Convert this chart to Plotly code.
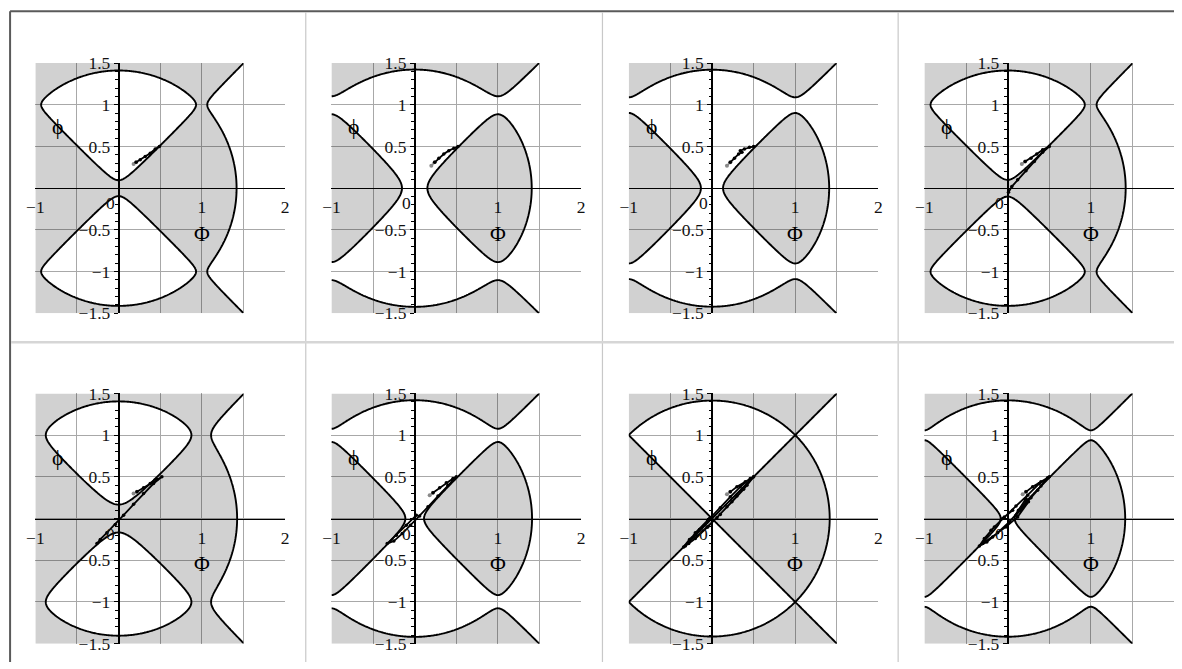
import numpy as np
import plotly.graph_objects as go

# Level c of the implicit curve (Φ² + ϕ² − 2)(Φ² − ϕ²) = c in each panel (row by row)
levels = [0.018, -0.046, -0.035, 0.02, 0.055, -0.025, 0.0, -0.014]

# Early part of each trajectory (drawn gray) and the rest (drawn black), as (Φ, ϕ) pairs
traj_early = [
    [(0.18, 0.29), (0.21, 0.31)],
    [(0.20, 0.27), (0.24, 0.31)],
    [(0.18, 0.27), (0.22, 0.31)],
    [(0.17, 0.29), (0.21, 0.32)],
    [(0.18, 0.30), (0.22, 0.32)],
    [(0.18, 0.28), (0.22, 0.31)],
    [(0.18, 0.29), (0.22, 0.32)],
    [(0.18, 0.29), (0.22, 0.32)],
]
traj_late = [
    [(0.21, 0.31), (0.26, 0.34), (0.32, 0.38), (0.38, 0.42), (0.44, 0.47), (0.49, 0.50)],
    [(0.24, 0.31), (0.29, 0.36), (0.35, 0.41), (0.41, 0.45), (0.47, 0.48), (0.52, 0.50)],
    [(0.22, 0.31), (0.27, 0.36), (0.32, 0.41), (0.36, 0.43), (0.34, 0.45), (0.39, 0.47),
     (0.45, 0.49), (0.50, 0.50)],
    [(0.21, 0.32), (0.28, 0.36), (0.35, 0.41), (0.42, 0.46), (0.50, 0.50), (0.42, 0.43),
     (0.32, 0.32), (0.22, 0.21), (0.12, 0.10), (0.05, 0.02), (0.01, -0.05)],
    [(0.22, 0.32), (0.30, 0.37), (0.38, 0.42), (0.46, 0.47), (0.52, 0.50), (0.42, 0.42),
     (0.30, 0.30), (0.18, 0.17), (0.06, 0.04), (-0.04, -0.07), (-0.14, -0.17),
     (-0.22, -0.25), (-0.26, -0.30)],
    [(0.22, 0.31), (0.30, 0.37), (0.38, 0.43), (0.46, 0.48), (0.50, 0.50), (0.40, 0.40),
     (0.28, 0.27), (0.16, 0.14), (0.06, 0.03), (-0.05, -0.08), (-0.15, -0.18),
     (-0.25, -0.27), (-0.33, -0.30), (-0.22, -0.20), (-0.10, -0.08), (0.02, 0.04)],
    [(0.22, 0.32), (0.30, 0.38), (0.40, 0.44), (0.50, 0.50), (0.42, 0.40), (0.30, 0.27),
     (0.18, 0.14), (0.06, 0.01), (-0.06, -0.10), (-0.18, -0.21), (-0.28, -0.30),
     (-0.34, -0.34), (-0.27, -0.25), (-0.15, -0.13), (-0.03, 0.00), (0.10, 0.13),
     (0.22, 0.26), (0.34, 0.38), (0.46, 0.48), (0.50, 0.50), (0.38, 0.35), (0.24, 0.20),
     (0.10, 0.05), (-0.05, -0.10), (-0.20, -0.24), (-0.32, -0.33), (-0.20, -0.17),
     (-0.05, -0.02)],
    [(0.22, 0.32), (0.30, 0.38), (0.40, 0.44), (0.50, 0.50), (0.40, 0.39), (0.28, 0.25),
     (0.15, 0.10), (0.02, -0.04), (-0.12, -0.17), (-0.25, -0.28), (-0.34, -0.33),
     (-0.28, -0.24), (-0.16, -0.10), (-0.04, 0.02), (0.10, 0.15), (0.24, 0.28),
     (0.38, 0.42), (0.48, 0.49), (0.36, 0.34), (0.22, 0.18), (0.10, 0.04), (0.13, 0.10),
     (0.22, 0.24), (0.25, 0.20), (0.12, 0.02), (-0.02, -0.10), (-0.18, -0.22),
     (-0.30, -0.30), (-0.20, -0.14), (-0.06, 0.00), (0.06, 0.10)],
]

x_tick_vals = [-1, -0.5, 0, 0.5, 1, 1.5, 2]
x_tick_text = ["−1", "", "", "", "1", "", "2"]
y_tick_vals = [-1.5, -1, -0.5, 0, 0.5, 1, 1.5]
y_tick_text = ["−1.5", "−1", "−0.5", "", "0.5", "1", "1.5"]
origin_label = "0"
x_label = "Φ"
y_label = "ϕ"

X_RANGE = [-1, 2]
Y_RANGE = [-1.5, 1.5]

# implicit-plot sampling region
gx = np.linspace(-1.0, 1.5, 200)
gy = np.linspace(-1.5, 1.5, 240)
PX, PY = np.meshgrid(gx, gy)
surface = (PX**2 + PY**2 - 2.0) * (PX**2 - PY**2)

# layout is specified in sheet pixels (1182 x 669) and mapped onto the page,
# whose body keeps its default 8px margin
PAGE_MARGIN = 8
SX, SY = 1.0101, 1.0277
W = int(round(1182 * SX)) - 2 * PAGE_MARGIN
H = int(round(669 * SY)) - 2 * PAGE_MARGIN
col_left = [34.3, 330.7, 628.3, 924.3]
row_top = [61.0, 392.3]
PW, PH = 250.0, 251.0


def fx(v):
    return min(max((v * SX - PAGE_MARGIN) / W, 0.0), 1.0)


def fy(v):
    return min(max(1 - (v * SY - PAGE_MARGIN) / H, 0.0), 1.0)


FONT = "Liberation Serif, DejaVu Serif, serif"
FS = 17 * SY
GRAY_FILL = "rgba(0,0,0,0.175)"

fig = go.Figure()
layout_axes = {}
annotations = []

for i, c in enumerate(levels):
    r, k = divmod(i, 4)
    n = "" if i == 0 else str(i + 1)
    xa, ya = "x" + n, "y" + n
    x0 = fx(col_left[k])
    x1 = fx(col_left[k] + PW)
    full = fx(col_left[k]) + PW * SX / W
    x_hi = X_RANGE[0] + (X_RANGE[1] - X_RANGE[0]) * (x1 - x0) / (full - x0)
    x_range = [X_RANGE[0], x_hi]
    y1 = fy(row_top[r])
    y0 = fy(row_top[r] + PH)

    # region where the expression falls below c is shaded; curve drawn in black
    neg = np.round(-surface, 5)
    fig.add_trace(go.Contour(
        x=gx, y=gy, z=neg, xaxis=xa, yaxis=ya,
        autocontour=False,
        contours=dict(start=-c, end=-c, size=1, coloring="fill", showlines=True),
        colorscale=[[0, "rgba(255,255,255,0)"], [0.5, "rgba(255,255,255,0)"],
                    [0.5, GRAY_FILL], [1, GRAY_FILL]],
        line=dict(color="black", width=1.9, smoothing=0),
        showscale=False, hoverinfo="skip",
    ))

    e = np.array(traj_early[i])
    fig.add_trace(go.Scatter(
        x=e[:, 0], y=e[:, 1], xaxis=xa, yaxis=ya, mode="lines+markers",
        line=dict(color="#8a8a8a", width=1.8), marker=dict(color="#8a8a8a", size=4),
        hoverinfo="skip", showlegend=False,
    ))
    t = np.array(traj_late[i])
    fig.add_trace(go.Scatter(
        x=t[:, 0], y=t[:, 1], xaxis=xa, yaxis=ya, mode="lines+markers",
        line=dict(color="black", width=1.8), marker=dict(color="black", size=3.5),
        hoverinfo="skip", showlegend=False,
    ))

    xpos0 = x0 + (0 - x_range[0]) / (x_range[1] - x_range[0]) * (x1 - x0)
    ypos0 = y0 + (0 - Y_RANGE[0]) / (Y_RANGE[1] - Y_RANGE[0]) * (y1 - y0)

    layout_axes["xaxis" + n] = dict(
        domain=[x0, x1], range=x_range, anchor="free", position=ypos0,
        tickmode="array", tickvals=x_tick_vals, ticktext=x_tick_text,
        ticks="", showgrid=True, gridcolor="#a8a8a8", gridwidth=1.2,
        zeroline=False, showline=True, linecolor="black", linewidth=1.4,
        tickfont=dict(family=FONT, size=FS, color="#111"), ticklabelstandoff=3,
        layer="above traces", fixedrange=True,
    )
    layout_axes["yaxis" + n] = dict(
        domain=[y0, y1], range=Y_RANGE, anchor="free", position=xpos0,
        tickmode="array", tickvals=y_tick_vals, ticktext=y_tick_text,
        ticks="outside", ticklen=4, tickcolor="black", tickwidth=1,
        minor=dict(dtick=0.1, tick0=0, ticks="outside", ticklen=2.5, tickcolor="black",
                   showgrid=False),
        showgrid=True, gridcolor="#a8a8a8", gridwidth=1.2,
        zeroline=False, showline=True, linecolor="black", linewidth=1.6,
        tickfont=dict(family=FONT, size=FS, color="#111"),
        layer="above traces", fixedrange=True,
    )

    annotations += [
        dict(x=0, y=0, xref=xa, yref=ya, text=origin_label, showarrow=False,
             xanchor="right", yanchor="middle", xshift=-2, yshift=-15,
             font=dict(family=FONT, size=FS, color="#111")),
        dict(x=1.0, y=-0.55, xref=xa, yref=ya, text=x_label, showarrow=False,
             font=dict(family=FONT, size=21 * SY, color="black")),
        dict(x=-0.73, y=0.73, xref=xa, yref=ya, text=y_label, showarrow=False,
             font=dict(family=FONT, size=21 * SY, color="black")),
    ]

# table frame around the cells
shapes = [
    dict(type="line", xref="paper", yref="paper", x0=fx(9), x1=1, y0=fy(9), y1=fy(9),
         line=dict(color="#5a5a5a", width=2)),
    dict(type="line", xref="paper", yref="paper", x0=fx(9), x1=fx(9), y0=fy(9), y1=0,
         line=dict(color="#5a5a5a", width=2)),
]
for sx in [305, 602, 898]:
    shapes.append(dict(type="line", xref="paper", yref="paper", x0=fx(sx), x1=fx(sx),
                       y0=fy(10), y1=0, line=dict(color="#c8c8c8", width=1.2)))
shapes.append(dict(type="line", xref="paper", yref="paper", x0=fx(10), x1=1,
                   y0=fy(341), y1=fy(341), line=dict(color="#d6d6d6", width=2.5)))

fig.update_layout(
    width=W, height=H, margin=dict(l=0, r=0, t=0, b=0),
    paper_bgcolor="white", plot_bgcolor="white", showlegend=False,
    annotations=annotations, shapes=shapes, **layout_axes,
)

fig.write_html("out.html", config={"displayModeBar": False})
